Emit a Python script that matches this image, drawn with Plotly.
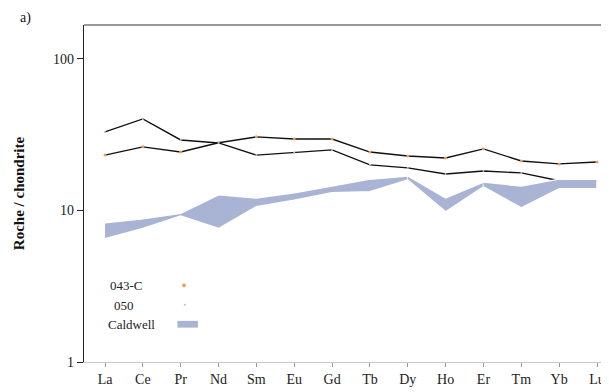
import plotly.graph_objects as go

elements = ["La", "Ce", "Pr", "Nd", "Sm", "Eu", "Gd", "Tb", "Dy", "Ho", "Er", "Tm", "Yb", "Lu"]
s043c = [23.2, 26.3, 24.3, 28.0, 30.6, 29.6, 29.6, 24.3, 22.9, 22.2, 25.5, 21.2, 20.3, 20.9]
s050 = [33.0, 40.2, 29.2, 27.9, 23.2, 24.0, 25.1, 20.0, 19.1, 17.4, 18.2, 17.7, 15.7, 15.7]
caldwell_hi = [8.3, 8.8, 9.6, 12.7, 12.1, 13.1, 14.5, 16.1, 16.9, 12.1, 15.4, 14.5, 16.1, 16.1]
caldwell_lo = [6.5, 7.6, 9.2, 7.6, 10.6, 11.7, 13.1, 13.3, 15.9, 9.8, 14.3, 10.4, 13.9, 13.9]
band_pieces = [(0, 8), (8, 10), (10, 13)]

SERIF = "Liberation Serif"
BAND = "#a9b3d3"

fig = go.Figure()

fig.add_trace(go.Scatter(x=elements, y=s043c, mode="lines+markers", name="043-C",
                         line=dict(color="#111111", width=1.4),
                         marker=dict(size=3, color="#e3a25a"), showlegend=False))
fig.add_trace(go.Scatter(x=elements, y=s050, mode="lines+markers", name="050",
                         line=dict(color="#111111", width=1.4),
                         marker=dict(size=2, color="#d9b8a8"), showlegend=False))

for a, b in band_pieces:
    xs = elements[a:b + 1] + elements[a:b + 1][::-1]
    ys = caldwell_hi[a:b + 1] + caldwell_lo[a:b + 1][::-1]
    fig.add_trace(go.Scatter(x=xs, y=ys, mode="lines", fill="toself", fillcolor=BAND,
                             line=dict(color="white", width=1.5), name="Caldwell",
                             showlegend=False, hoverinfo="skip"))

# hand-drawn style legend: label then symbol
leg_font = dict(family=SERIF, size=13, color="#222222")
legend_items = [("043-C", 0.080, 0.227), ("050", 0.076, 0.168), ("Caldwell", 0.091, 0.112)]
for txt, xx, yy in legend_items:
    fig.add_annotation(x=xx, y=yy, xref="paper", yref="paper", text=txt,
                       showarrow=False, xanchor="center", yanchor="middle", font=leg_font)
fig.add_shape(type="circle", xref="paper", yref="paper",
              x0=0.187, x1=0.194, y0=0.222, y1=0.234,
              fillcolor="#e3a25a", line=dict(width=0))
fig.add_shape(type="circle", xref="paper", yref="paper",
              x0=0.190, x1=0.194, y0=0.167, y1=0.173,
              fillcolor="#d9b8a8", line=dict(width=0))
fig.add_shape(type="rect", xref="paper", yref="paper",
              x0=0.178, x1=0.217, y0=0.102, y1=0.122,
              fillcolor=BAND, line=dict(width=0))

# top frame line
fig.add_shape(type="line", xref="paper", yref="paper", x0=0, x1=1, y0=1, y1=1,
              line=dict(color="#333333", width=1))

fig.add_annotation(text="a)", showarrow=False, xref="x domain", yref="y domain",
                   x=-0.125, y=1.0504, xanchor="left", yanchor="top",
                   font=dict(family=SERIF, size=14, color="#111111"))

# page body has an 8px margin; size the figure to fit the 609x392 window
fig.update_layout(
    width=601, height=384,
    margin=dict(l=76, r=0, t=17, b=30),
    paper_bgcolor="white", plot_bgcolor="white",
    font=dict(family=SERIF, size=14, color="#222222"),
    xaxis=dict(type="category", categoryorder="array", categoryarray=elements,
               range=[-0.555, 13.317], showgrid=False, zeroline=False,
               showline=True, linecolor="#c8c8c8", linewidth=1,
               ticks="outside", ticklen=4, tickcolor="#999999",
               tickfont=dict(family=SERIF, size=14, color="#222222")),
    yaxis=dict(type="log", range=[0, 2.224], showgrid=False, zeroline=False,
               showline=True, linecolor="#222222", linewidth=1.2,
               ticks="outside", ticklen=6, tickcolor="#222222",
               tickvals=[1, 10, 100], ticktext=["1", "10", "100"],
               tickfont=dict(family=SERIF, size=14, color="#222222"),
               title=dict(text="<b>Roche / chondrite</b>", standoff=24,
                          font=dict(family=SERIF, size=15, color="#111111"))),
)

fig.write_html("out.html")
